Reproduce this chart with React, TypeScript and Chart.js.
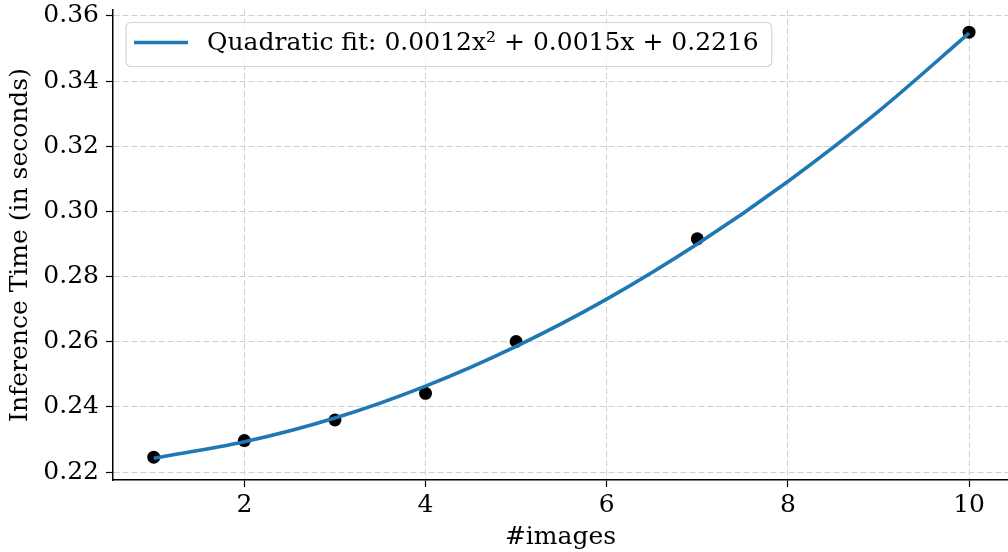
import React, { useEffect, useRef } from "react";
import { Chart, registerables } from "chart.js";

Chart.register(...registerables);

// Measured points
const imageCounts = [1, 2, 3, 4, 5, 7, 10];
const inferenceTimes = [0.2246, 0.2297, 0.236, 0.2442, 0.2601, 0.2916, 0.355];

// Fitted curve
const fitX = [1, 2, 3, 4, 5, 6, 7, 8, 9, 10];
const fitY = [0.2243, 0.2293, 0.2366, 0.2464, 0.2586, 0.2731, 0.29, 0.3092, 0.3307, 0.3547];

const xTicks = [2, 4, 6, 8, 10];
const yTicks = [0.22, 0.24, 0.26, 0.28, 0.3, 0.32, 0.34, 0.36];

const fitLabel = "Quadratic fit: 0.0012x² + 0.0015x + 0.2216";
const xTitle = "#images";
const yTitle = "Inference Time (in seconds)";

const FONT = "'DejaVu Serif', serif";
const FS = 25;

const legendPlugin = {
  id: "mplLegend",
  afterDatasetsDraw(chart: any) {
    const { ctx, chartArea } = chart;
    const ds = chart.data.datasets[0];
    ctx.save();
    ctx.font = `${FS}px ${FONT}`;
    const textW = ctx.measureText(ds.label).width;
    const x = chartArea.left + 13;
    const y = chartArea.top + 12.5;
    const h = 44;
    const w = 81 + textW + 13;
    const r = 5;
    ctx.beginPath();
    ctx.moveTo(x + r, y);
    ctx.lineTo(x + w - r, y);
    ctx.arcTo(x + w, y, x + w, y + r, r);
    ctx.lineTo(x + w, y + h - r);
    ctx.arcTo(x + w, y + h, x + w - r, y + h, r);
    ctx.lineTo(x + r, y + h);
    ctx.arcTo(x, y + h, x, y + h - r, r);
    ctx.lineTo(x, y + r);
    ctx.arcTo(x, y, x + r, y, r);
    ctx.closePath();
    ctx.fillStyle = "rgba(255,255,255,0.8)";
    ctx.fill();
    ctx.strokeStyle = "#d4d4d4";
    ctx.lineWidth = 1.2;
    ctx.stroke();
    ctx.beginPath();
    ctx.moveTo(x + 8, y + 20);
    ctx.lineTo(x + 62, y + 20);
    ctx.strokeStyle = ds.borderColor;
    ctx.lineWidth = 3.6;
    ctx.stroke();
    ctx.fillStyle = "#000";
    ctx.textBaseline = "middle";
    ctx.textAlign = "left";
    ctx.fillText(ds.label, x + 81, y + 21);
    ctx.restore();
  },
};

export default function App() {
  const ref = useRef<HTMLCanvasElement>(null);

  useEffect(() => {
    if (!ref.current) return;
    const font = { family: FONT, size: FS };
    const chart = new Chart(ref.current, {
      type: "scatter",
      data: {
        datasets: [
          {
            label: fitLabel,
            data: fitX.map((x, i) => ({ x, y: fitY[i] })),
            showLine: true,
            borderColor: "#1f77b4",
            backgroundColor: "#1f77b4",
            borderWidth: 3.6,
            pointRadius: 0,
            cubicInterpolationMode: "monotone",
          } as any,
          {
            label: "data",
            data: imageCounts.map((x, i) => ({ x, y: inferenceTimes[i] })),
            backgroundColor: "#000",
            borderColor: "#000",
            pointRadius: 6.5,
            pointBorderWidth: 0,
          },
        ],
      },
      options: {
        animation: false,
        responsive: false,
        devicePixelRatio: 1,
        layout: { autoPadding: false, padding: { top: 10, right: 0, left: 0, bottom: 0 } },
        plugins: { legend: { display: false }, tooltip: { enabled: false } },
        scales: {
          x: {
            type: "linear",
            min: 0.55,
            max: 10.43,
            afterBuildTicks: (s: any) => {
              s.ticks = xTicks.map((v) => ({ value: v }));
            },
            afterFit: (s: any) => {
              s.height = 72;
              s.paddingLeft = 0;
              s.paddingRight = 0;
            },
            grid: { color: "#d0d0d0", lineWidth: 1, tickColor: "#000", tickLength: 7, tickWidth: 1.2 },
            border: { color: "#000", width: 1.5, dash: [6, 3] },
            ticks: { font, color: "#000", padding: 3, maxRotation: 0, autoSkip: false, callback: (v: any) => String(v) },
            title: { display: true, text: xTitle, font, color: "#000", padding: { top: 0, bottom: 0 } },
          },
          y: {
            type: "linear",
            min: 0.2176,
            max: 0.3618,
            afterBuildTicks: (s: any) => {
              s.ticks = yTicks.map((v) => ({ value: v }));
            },
            afterFit: (s: any) => {
              s.width = 113;
              s.paddingTop = 0;
              s.paddingBottom = 0;
            },
            grid: { color: "#d0d0d0", lineWidth: 1, tickColor: "#000", tickLength: 7, tickWidth: 1.2 },
            border: { color: "#000", width: 1.5, dash: [6, 3] },
            ticks: { font, color: "#000", padding: 7, autoSkip: false, callback: (v: any) => Number(v).toFixed(2) },
            title: { display: true, text: yTitle, font, color: "#000", padding: { top: 5, bottom: 0 } },
          },
        },
      },
      plugins: [legendPlugin],
    });
    return () => chart.destroy();
  }, []);

  return (
    <div style={{ position: "fixed", left: 0, top: 0, width: 1008, height: 552, background: "#fff" }}>
      <canvas ref={ref} width={1008} height={552} style={{ width: 1008, height: 552, display: "block" }} />
    </div>
  );
}
